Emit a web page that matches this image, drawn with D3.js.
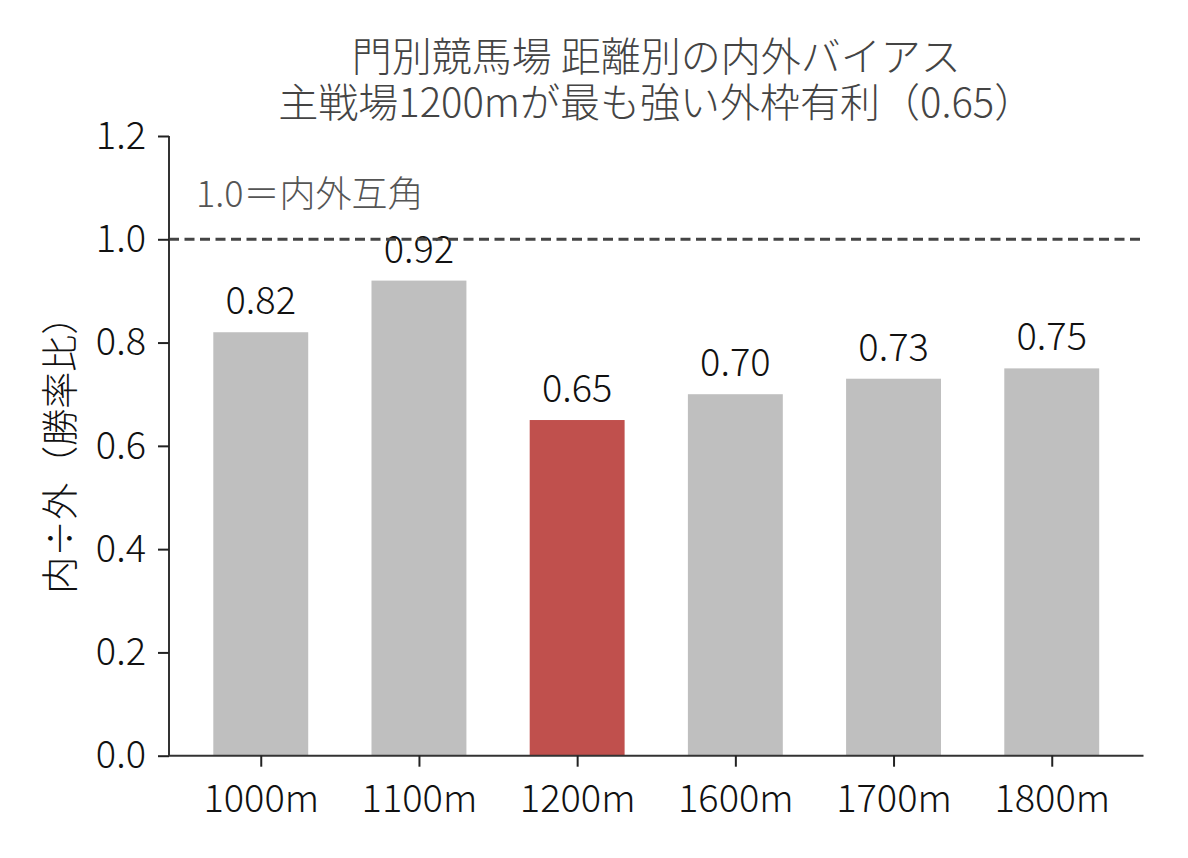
<!DOCTYPE html>
<html>
<head>
<meta charset="utf-8">
<script src="https://cdn.jsdelivr.net/npm/d3@7"></script>
<style>
  body { margin: 0; background: #fff; }
  svg text { font-family: "Noto Sans CJK JP", "Noto Sans", sans-serif; font-weight: 300; }
</style>
</head>
<body>
<svg id="chart" width="1188" height="858"></svg>
<script>
// data
let distances = ['1000m', '1100m', '1200m', '1600m', '1700m', '1800m'];
let ratios = [0.82, 0.92, 0.65, 0.70, 0.73, 0.75];
let highlight = '1200m';
let yTicks = [0.0, 0.2, 0.4, 0.6, 0.8, 1.0, 1.2];
let titleLines = ['門別競馬場 距離別の内外バイアス', '主戦場1200mが最も強い外枠有利（0.65）'];

let svg = d3.select('#chart');

let plotL = 169, plotR = 1143.5, plotT = 136, plotB = 755.7;

let x = d3.scaleLinear()
  .domain([-0.58, distances.length - 1 + 0.58])
  .range([plotL, plotR]);

let y = d3.scaleLinear()
  .domain([0, 1.2])
  .range([plotB, plotT]);

let barW = x(0.6) - x(0);

// bars
svg.selectAll('rect.bar').data(distances).enter().append('rect')
  .attr('class', 'bar')
  .attr('x', (d, i) => x(i) - barW / 2)
  .attr('y', (d, i) => y(ratios[i]))
  .attr('width', barW)
  .attr('height', (d, i) => y(0) - y(ratios[i]))
  .attr('fill', d => d === highlight ? '#c0504d' : '#bfbfbf');

// value labels
svg.selectAll('text.val').data(distances).enter().append('text')
  .attr('class', 'val')
  .attr('x', (d, i) => x(i))
  .attr('y', (d, i) => y(ratios[i]) - 18)
  .attr('text-anchor', 'middle')
  .attr('font-size', 38)
  .attr('fill', '#111')
  .text((d, i) => ratios[i].toFixed(2));

// reference line at 1.0
svg.append('line')
  .attr('x1', plotL).attr('x2', plotR)
  .attr('y1', y(1.0)).attr('y2', y(1.0))
  .attr('stroke', '#444')
  .attr('stroke-width', 3)
  .attr('stroke-dasharray', '10,5.5');

svg.append('text')
  .attr('x', 196).attr('y', 207)
  .attr('font-size', 36)
  .attr('fill', '#555')
  .text('1.0＝内外互角');

// axes
let yAxis = d3.axisLeft(y).tickValues(yTicks).tickFormat(d3.format('.1f')).tickSize(11).tickPadding(12);
let gy = svg.append('g').attr('transform', `translate(${plotL},0)`).call(yAxis);

let xAxis = d3.axisBottom(x).tickValues(d3.range(distances.length)).tickFormat(i => distances[i]).tickSize(11).tickPadding(10);
let gx = svg.append('g').attr('transform', `translate(0,${plotB})`).call(xAxis);

[gx, gy].forEach(g => {
  g.select('.domain').attr('stroke', '#333').attr('stroke-width', 2);
  g.selectAll('.tick line').attr('stroke', '#222').attr('stroke-width', 2);
  g.selectAll('.tick text').attr('font-size', 38).attr('fill', '#111')
    .style('font-family', '"Noto Sans CJK JP", sans-serif').style('font-weight', 300);
});
// square-ended spines like matplotlib
gy.select('.domain').attr('d', `M0,${plotB}V${plotT}`);
gx.select('.domain').attr('d', `M${plotL},0H${plotR}`);
gx.selectAll('.tick text').attr('dy', '0.93em');

// y label
svg.append('text')
  .attr('transform', `translate(74,${(plotT + plotB) / 2}) rotate(-90)`)
  .attr('text-anchor', 'middle')
  .attr('font-size', 37)
  .attr('fill', '#111')
  .text('内÷外（勝率比）');

// title, two lines in one text element
let title = svg.append('text')
  .attr('x', (plotL + plotR) / 2)
  .attr('y', 71)
  .attr('text-anchor', 'middle')
  .attr('font-size', 40)
  .attr('fill', '#444');
title.selectAll('tspan').data(titleLines).enter().append('tspan')
  .attr('x', (plotL + plotR) / 2)
  .attr('dy', (d, i) => i === 0 ? 0 : 46)
  .text(d => d);
</script>
</body>
</html>
